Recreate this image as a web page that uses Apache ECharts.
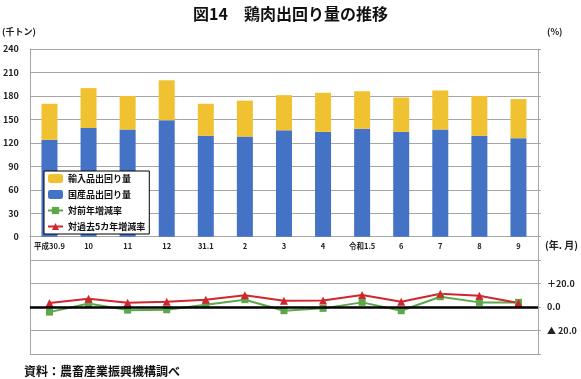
<!DOCTYPE html>
<html><head><meta charset="utf-8">
<script src="https://cdn.jsdelivr.net/npm/echarts@6/dist/echarts.min.js"></script>
<style>html,body{margin:0;padding:0;background:#fff}#c{width:581px;height:379px}</style>
</head><body><div id="c"></div>
<script>
const categories = ['平成30.9','10','11','12','31.1','2','3','4','令和1.5','6','7','8','9'];
const domestic = [124,139,137,149,129,128,136,134,138,134,137,129,126];
const imports  = [46,51,43,51,41,46,45,50,48,44,50,51,50];
const yoyRate  = [-4.3,3.1,-2.6,-2.3,2.0,6.3,-3.1,-1.1,4.0,-3.1,8.8,4.0,4.0];
const fiveYrRate = [3.4,7.1,3.7,4.6,6.3,10.0,5.4,5.7,10.3,4.6,11.4,9.7,3.4];
const leftTicks = {min:-150, max:240, interval:30};
const rightTicks = {min:-40, max:220, interval:20};

const FONT = '"Noto Sans CJK JP", "Noto Sans", sans-serif';
const GRID = {left:28, right:43, top:49, bottom:25};
const chart = echarts.init(document.getElementById('c'), null, {renderer:'canvas'});
const plotH = 379 - GRID.top - GRID.bottom;
const zeroOffset = -plotH * (0 - leftTicks.min) / (leftTicks.max - leftTicks.min);
chart.setOption({
  animation:false,
  textStyle:{fontFamily:FONT},
  title:{text:'図14　鶏肉出回り量の推移', left:'center', top:1,
    textStyle:{fontFamily:FONT, fontSize:16, fontWeight:'bold', color:'#111'}},
  grid:Object.assign({containLabel:false}, GRID),
  legend:{
    data:['輸入品出回り量','国産品出回り量','対前年増減率','対過去5カ年増減率'],
    orient:'vertical', left:44, top:171, itemWidth:15, itemHeight:9, itemGap:7,
    padding:[3,4,3,3], borderColor:'#000', borderWidth:1, backgroundColor:'#fff',
    textStyle:{fontFamily:FONT, fontSize:9, fontWeight:'bold', color:'#111'}
  },
  xAxis:{type:'category', data:categories, position:'bottom', offset:zeroOffset,
    axisLine:{show:true, onZero:false, lineStyle:{color:'#a6a6a6'}},
    axisTick:{show:false},
    axisLabel:{fontFamily:FONT, fontSize:7.5, fontWeight:'bold', color:'#222', margin:6, interval:0},
    splitLine:{show:false}
  },
  yAxis:[
    {type:'value', min:leftTicks.min, max:leftTicks.max, interval:leftTicks.interval,
     axisLine:{show:true, lineStyle:{color:'#a6a6a6'}}, axisTick:{show:false},
     splitLine:{show:true, lineStyle:{color:'#a6a6a6', width:1}},
     axisLabel:{fontFamily:FONT, fontSize:9, fontWeight:'bold', color:'#222', margin:11,
       formatter:v => v >= 0 ? String(v) : ''}},
    {type:'value', min:rightTicks.min, max:rightTicks.max, interval:rightTicks.interval,
     position:'right',
     axisLine:{show:true, lineStyle:{color:'#a6a6a6'}},
     axisTick:{show:true, length:3, inside:false, lineStyle:{color:'#a6a6a6'}},
     splitLine:{show:false},
     axisLabel:{fontFamily:FONT, fontSize:9, fontWeight:'bold', color:'#222', margin:9,
       formatter:v => v === 20 ? '＋20.0' : (v === 0 ? '0.0' : (v === -20 ? '▲ 20.0' : ''))}}
  ],
  series:[
    {name:'国産品出回り量', type:'bar', stack:'a', data:domestic, barWidth:16,
     itemStyle:{color:'#4472C4'}},
    {name:'輸入品出回り量', type:'bar', stack:'a', data:imports, barWidth:16,
     itemStyle:{color:'#F0C232'}},
    {name:'対前年増減率', type:'line', yAxisIndex:1, data:yoyRate,
     symbol:'rect', symbolSize:7, lineStyle:{color:'#5CA84A', width:2},
     itemStyle:{color:'#5CA84A'},
     markLine:{silent:true, symbol:'none', label:{show:false},
       lineStyle:{color:'#000', width:2.5, type:'solid'}, data:[{yAxis:0}]}},
    {name:'対過去5カ年増減率', type:'line', yAxisIndex:1, data:fiveYrRate,
     symbol:'triangle', symbolSize:8, lineStyle:{color:'#D0262E', width:2},
     itemStyle:{color:'#D0262E'}}
  ],
  graphic:[
    {type:'text', left:2, top:27, style:{text:'(千トン)', font:'bold 9px '+FONT, fill:'#222'}},
    {type:'text', left:547, top:27, style:{text:'(%)', font:'bold 9px '+FONT, fill:'#222'}},
    {type:'text', left:545, top:240, style:{text:'(年. 月)', font:'bold 10px '+FONT, fill:'#222'}},
    {type:'text', left:24, top:365, style:{text:'資料：農畜産業振興機構調べ', font:'bold 12px '+FONT, fill:'#111'}}
  ]
});
</script></body></html>
